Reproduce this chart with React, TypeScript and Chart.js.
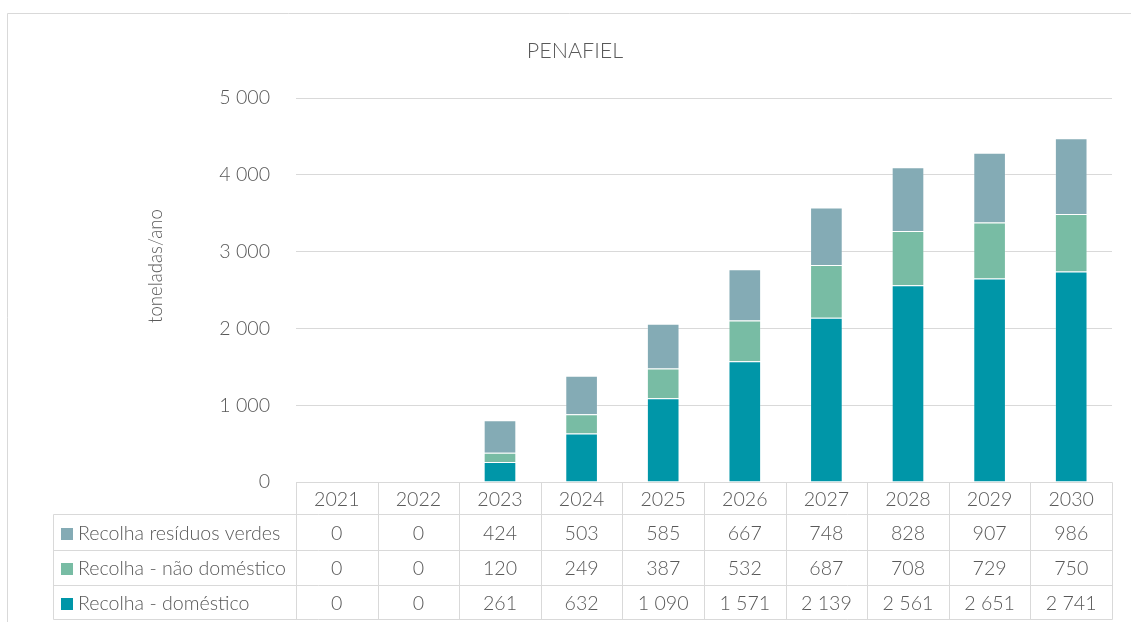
import React, { useEffect, useRef } from 'react';
import { Chart, registerables } from 'chart.js';

Chart.register(...registerables);

const chartTitle = 'PENAFIEL';
const yAxisTitle = 'toneladas/ano';
const years = ['2021', '2022', '2023', '2024', '2025', '2026', '2027', '2028', '2029', '2030'];
const domestico = [0, 0, 261, 632, 1090, 1571, 2139, 2561, 2651, 2741];
const naoDomestico = [0, 0, 120, 249, 387, 532, 687, 708, 729, 750];
const residuosVerdes = [0, 0, 424, 503, 585, 667, 748, 828, 907, 986];
const seriesLabels = ['Recolha - doméstico', 'Recolha - não doméstico', 'Recolha resíduos verdes'];
const seriesColors = ['#0096A8', '#78BCA4', '#84ABB5'];
const yMax = 5000;
const yStep = 1000;

const FONT = 'Lato, "Open Sans", sans-serif';
const WEIGHT = '300';
const TEXT = '#595959';
const GRID = '#d9d9d9';
const SIZE = 19.6;

const fmt = (n: number) => String(n).replace(/\B(?=(\d{3})+(?!\d))/g, ' ');

const tablePlugin = {
  id: 'dataTable',
  beforeDraw(chart: any) {
    const { ctx, width, height } = chart;
    ctx.save();
    ctx.fillStyle = '#ffffff';
    ctx.fillRect(0, 0, width, height);
    ctx.strokeStyle = GRID;
    ctx.lineWidth = 1;
    ctx.beginPath();
    ctx.moveTo(7.5, height);
    ctx.lineTo(7.5, 13.5);
    ctx.lineTo(width, 13.5);
    ctx.stroke();
    ctx.restore();
  },
  afterDraw(chart: any) {
    const { ctx, chartArea } = chart;
    const xs = chart.scales.x;
    const n = chart.data.labels.length;
    const cw = (chartArea.right - chartArea.left) / n;
    const bounds: number[] = [];
    for (let i = 0; i <= n; i++) {
      const c = i < n ? xs.getPixelForValue(i) - cw / 2 : xs.getPixelForValue(n - 1) + cw / 2;
      bounds.push(Math.round(c) + 0.5);
    }
    const top = Math.round(chartArea.bottom) + 0.5;
    const rowYs = [top, top + 32, top + 68, top + 103, top + 137];
    const legendLeft = 53.5;

    ctx.save();
    ctx.strokeStyle = GRID;
    ctx.lineWidth = 1;
    ctx.beginPath();
    ctx.moveTo(bounds[0], rowYs[0]);
    ctx.lineTo(bounds[n], rowYs[0]);
    for (let r = 1; r < rowYs.length; r++) {
      ctx.moveTo(legendLeft, rowYs[r]);
      ctx.lineTo(bounds[n], rowYs[r]);
    }
    for (let i = 0; i <= n; i++) {
      ctx.moveTo(bounds[i], rowYs[0]);
      ctx.lineTo(bounds[i], rowYs[4]);
    }
    ctx.moveTo(legendLeft, rowYs[1]);
    ctx.lineTo(legendLeft, rowYs[4]);
    ctx.stroke();

    ctx.fillStyle = TEXT;
    ctx.font = `${WEIGHT} ${SIZE}px ${FONT}`;
    ctx.textAlign = 'center';
    ctx.textBaseline = 'middle';
    const labels = chart.data.labels as string[];
    for (let i = 0; i < n; i++) {
      const cx = xs.getPixelForValue(i);
      ctx.fillText(labels[i], cx, (rowYs[0] + rowYs[1]) / 2 + 1);
    }
    const ds = [...chart.data.datasets].reverse();
    ds.forEach((d: any, r: number) => {
      const cy = (rowYs[r + 1] + rowYs[r + 2]) / 2 + 1;
      ctx.fillStyle = d.backgroundColor;
      ctx.fillRect(61, Math.round(cy - 6), 12, 12);
      ctx.fillStyle = TEXT;
      ctx.textAlign = 'left';
      ctx.fillText(d.label, 78, cy);
      ctx.textAlign = 'center';
      for (let i = 0; i < n; i++) {
        ctx.fillText(fmt(d.data[i]), xs.getPixelForValue(i), cy);
      }
    });

    ctx.font = `${WEIGHT} 21.5px ${FONT}`;
    ctx.fillText(chartTitle, 575, 51);

    ctx.save();
    ctx.translate(156, 266);
    ctx.rotate(-Math.PI / 2);
    ctx.font = `${WEIGHT} 18.6px ${FONT}`;
    ctx.fillText(yAxisTitle, 0, 0);
    ctx.restore();
    ctx.restore();
  },
};

export default function App() {
  const ref = useRef<HTMLCanvasElement | null>(null);
  useEffect(() => {
    if (!ref.current) return;
    const chart = new Chart(ref.current, {
      type: 'bar',
      data: {
        labels: years,
        datasets: [
          { label: seriesLabels[0], data: domestico, backgroundColor: seriesColors[0] },
          { label: seriesLabels[1], data: naoDomestico, backgroundColor: seriesColors[1] },
          { label: seriesLabels[2], data: residuosVerdes, backgroundColor: seriesColors[2] },
        ].map((d) => ({
          ...d,
          borderColor: 'rgba(255,255,255,0.2)',
          borderWidth: 1,
          categoryPercentage: 0.8,
          barPercentage: 0.5,
        })),
      },
      options: {
        responsive: false,
        animation: false,
        devicePixelRatio: 1,
        layout: { padding: { top: 98, right: 19, bottom: 140, left: 0 } },
        plugins: {
          legend: { display: false },
          title: { display: false },
          tooltip: { enabled: false },
        },
        scales: {
          x: {
            stacked: true,
            grid: { display: false },
            border: { display: false },
            ticks: { display: false },
            afterFit: (s: any) => {
              s.height = 0;
            },
          },
          y: {
            stacked: true,
            min: 0,
            max: yMax,
            ticks: {
              stepSize: yStep,
              padding: 26,
              color: TEXT,
              font: { family: FONT, size: SIZE, weight: WEIGHT as any },
              callback: (v: any) => fmt(Number(v)),
            },
            grid: { color: GRID, lineWidth: 1, drawTicks: false },
            border: { display: false },
            afterFit: (s: any) => {
              s.width = 296;
            },
          },
        },
      },
      plugins: [tablePlugin],
    });
    return () => chart.destroy();
  }, []);
  return (
    <div style={{ position: 'fixed', left: 0, top: 0, width: 1131, height: 622, background: '#fff' }}>
      <canvas ref={ref} width={1131} height={622} style={{ display: 'block' }} />
    </div>
  );
}
